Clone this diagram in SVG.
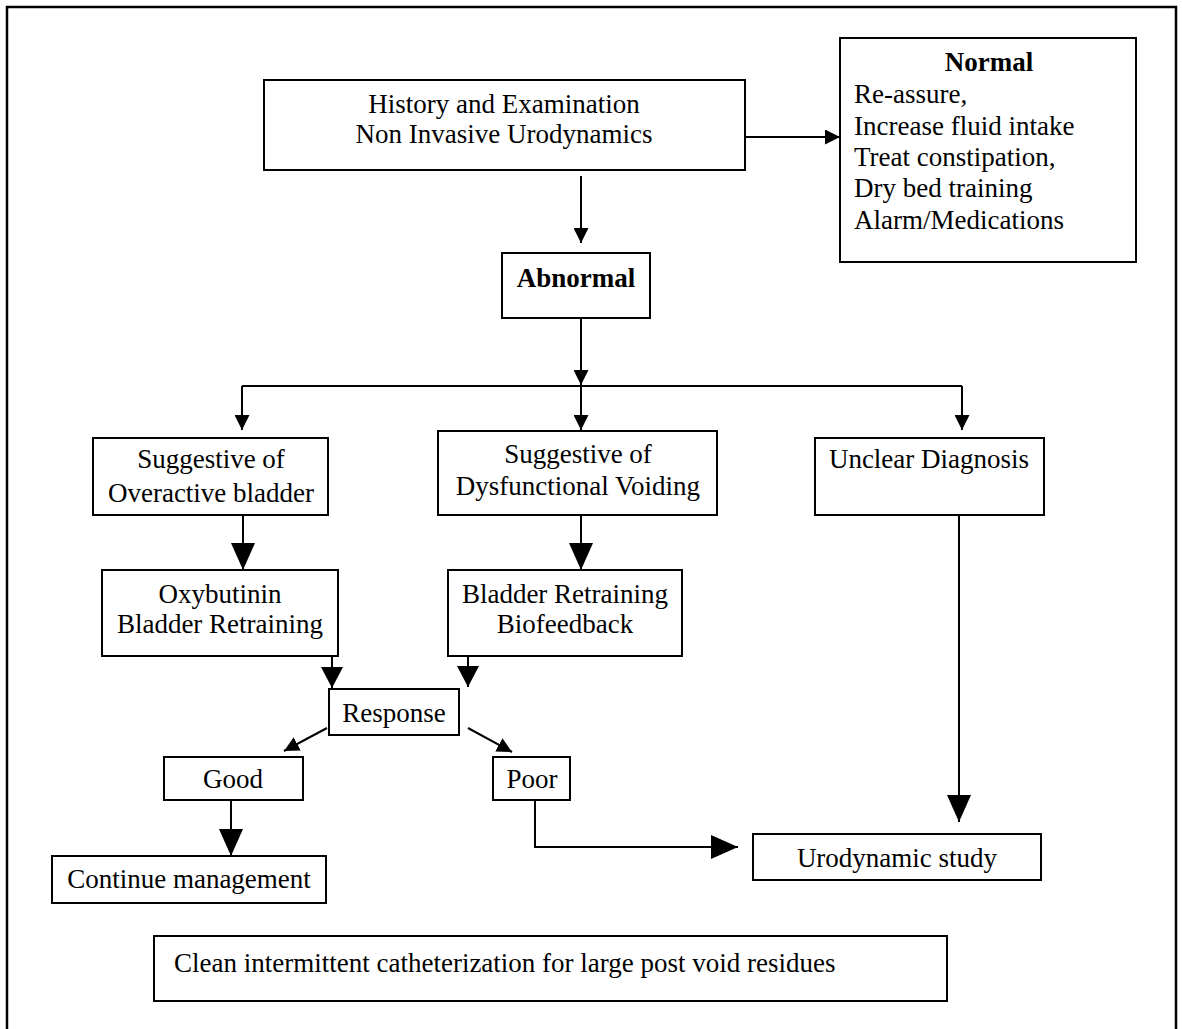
<svg xmlns="http://www.w3.org/2000/svg" width="1182" height="1029" viewBox="0 0 1182 1029">
<style>
.box{fill:#fff;stroke:#000;stroke-width:2}
.t{font-family:"Liberation Serif","Times New Roman",serif;font-size:27px;fill:#000}
.c{text-anchor:middle}
.b{font-weight:bold}
.ln{fill:none;stroke:#000;stroke-width:2}
</style>
<defs>
<marker id="aS" markerUnits="userSpaceOnUse" markerWidth="15" markerHeight="15" viewBox="0 0 15 15" refX="15" refY="7.5" orient="auto"><path d="M0,0 L15,7.5 L0,15 z" fill="#000"/></marker>
<marker id="aM" markerUnits="userSpaceOnUse" markerWidth="21" markerHeight="22" viewBox="0 0 21 22" refX="21" refY="11" orient="auto"><path d="M0,0 L21,11 L0,22 z" fill="#000"/></marker>
<marker id="aL" markerUnits="userSpaceOnUse" markerWidth="27" markerHeight="24" viewBox="0 0 27 24" refX="27" refY="12" orient="auto"><path d="M0,0 L27,12 L0,24 z" fill="#000"/></marker>
</defs>
<rect width="1182" height="1029" fill="#fff"/>
<path d="M7,1040 V7 H1176 V1040" fill="none" stroke="#000" stroke-width="2.5"/>

<g id="connectors">
<line class="ln" x1="581" y1="176" x2="581" y2="243" marker-end="url(#aS)"/>
<line class="ln" x1="745" y1="137" x2="840" y2="137" marker-end="url(#aS)"/>
<line class="ln" x1="581" y1="318" x2="581" y2="385" marker-end="url(#aS)"/>
<polyline class="ln" points="242,386 962,386"/>
<line class="ln" x1="242" y1="386" x2="242" y2="430" marker-end="url(#aS)"/>
<line class="ln" x1="581" y1="386" x2="581" y2="430" marker-end="url(#aS)"/>
<line class="ln" x1="962" y1="386" x2="962" y2="430" marker-end="url(#aS)"/>
<line class="ln" x1="243" y1="515" x2="243" y2="570" marker-end="url(#aL)"/>
<line class="ln" x1="581" y1="515" x2="581" y2="570" marker-end="url(#aL)"/>
<line class="ln" x1="332" y1="656" x2="332" y2="688" marker-end="url(#aM)"/>
<line class="ln" x1="468" y1="654" x2="468" y2="687" marker-end="url(#aM)"/>
<line class="ln" x1="327" y1="728" x2="284" y2="751" marker-end="url(#aS)"/>
<line class="ln" x1="468" y1="728" x2="512" y2="752" marker-end="url(#aS)"/>
<line class="ln" x1="231" y1="800" x2="231" y2="856" marker-end="url(#aL)"/>
<polyline class="ln" points="535,800 535,847 738,847" marker-end="url(#aL)"/>
<line class="ln" x1="959" y1="515" x2="959" y2="822" marker-end="url(#aL)"/>
</g>

<g id="history">
<rect class="box" x="264" y="80" width="481" height="90"/>
<text class="t c" x="504" y="113">History and Examination</text>
<text class="t c" x="504" y="143">Non Invasive Urodynamics</text>
</g>
<g id="normal">
<rect class="box" x="840" y="38" width="296" height="224"/>
<text class="t c b" x="989" y="71">Normal</text>
<text class="t" x="854" y="103">Re-assure,</text>
<text class="t" x="854" y="135">Increase fluid intake</text>
<text class="t" x="854" y="166">Treat constipation,</text>
<text class="t" x="854" y="197">Dry bed training</text>
<text class="t" x="854" y="229">Alarm/Medications</text>
</g>
<g id="abnormal">
<rect class="box" x="502" y="253" width="148" height="65"/>
<text class="t c b" x="576" y="287">Abnormal</text>
</g>
<g id="overactive">
<rect class="box" x="93" y="438" width="235" height="77"/>
<text class="t c" x="211" y="468">Suggestive of</text>
<text class="t c" x="211" y="502">Overactive bladder</text>
</g>
<g id="dysfunctional">
<rect class="box" x="438" y="431" width="279" height="84"/>
<text class="t c" x="578" y="463">Suggestive of</text>
<text class="t c" x="578" y="495">Dysfunctional Voiding</text>
</g>
<g id="unclear">
<rect class="box" x="815" y="438" width="229" height="77"/>
<text class="t c" x="929" y="468">Unclear Diagnosis</text>
</g>
<g id="oxybutinin">
<rect class="box" x="102" y="570" width="236" height="86"/>
<text class="t c" x="220" y="603">Oxybutinin</text>
<text class="t c" x="220" y="633">Bladder Retraining</text>
</g>
<g id="retraining">
<rect class="box" x="448" y="570" width="234" height="86"/>
<text class="t c" x="565" y="603">Bladder Retraining</text>
<text class="t c" x="565" y="633">Biofeedback</text>
</g>
<g id="response">
<rect class="box" x="329" y="689" width="130" height="46"/>
<text class="t c" x="394" y="722">Response</text>
</g>
<g id="good">
<rect class="box" x="164" y="757" width="139" height="43"/>
<text class="t c" x="233" y="788">Good</text>
</g>
<g id="poor">
<rect class="box" x="493" y="757" width="77" height="43"/>
<text class="t c" x="532" y="788">Poor</text>
</g>
<g id="continue">
<rect class="box" x="52" y="856" width="274" height="47"/>
<text class="t c" x="189" y="888">Continue management</text>
</g>
<g id="urodynamic">
<rect class="box" x="753" y="834" width="288" height="46"/>
<text class="t c" x="897" y="867">Urodynamic study</text>
</g>
<g id="cic">
<rect class="box" x="154" y="936" width="793" height="65"/>
<text class="t" x="174" y="972">Clean intermittent catheterization for large post void residues</text>
</g>
</svg>
